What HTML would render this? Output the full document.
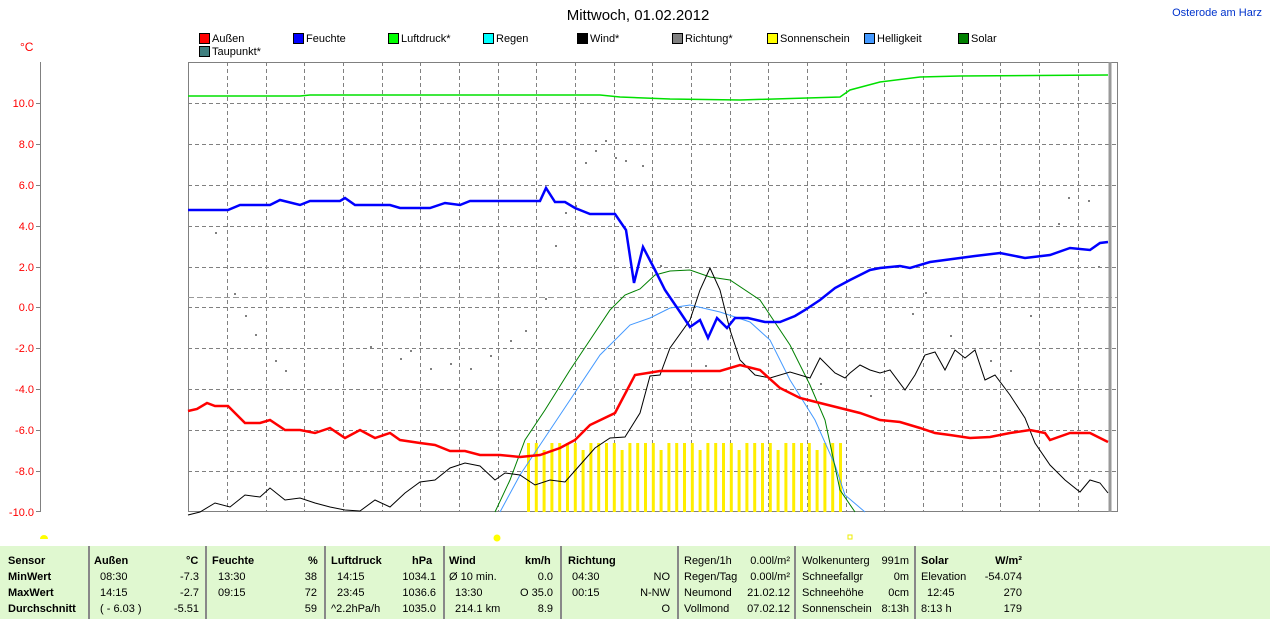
<!DOCTYPE html>
<html><head><meta charset="utf-8"><style>
body{margin:0;background:#fff;width:1270px;height:619px;overflow:hidden;font-family:"Liberation Sans",sans-serif}
svg{position:absolute;left:0;top:0}
#tbl{position:absolute;left:0;top:546px;width:1270px;height:73px;background:#e0f8d0;font-size:11px;color:#000}
#tbl div{position:absolute;white-space:nowrap}
.sep{width:2px;background:#888;top:0;height:73px}
.b{font-weight:bold}
</style></head><body>
<svg width="1270" height="619" xmlns="http://www.w3.org/2000/svg" font-family="Liberation Sans, sans-serif">
<text x="638" y="20" font-size="15" text-anchor="middle" fill="#000">Mittwoch, 01.02.2012</text>
<text x="1262" y="16" font-size="11" text-anchor="end" fill="#0033cc">Osterode am Harz</text>
<g font-size="11" fill="#000">
<rect x="199.5" y="33.5" width="10" height="10" fill="#f00" stroke="#000"/><text x="212" y="42">Außen</text>
<rect x="293.5" y="33.5" width="10" height="10" fill="#00f" stroke="#000"/><text x="306" y="42">Feuchte</text>
<rect x="388.5" y="33.5" width="10" height="10" fill="#0f0" stroke="#000"/><text x="401" y="42">Luftdruck*</text>
<rect x="483.5" y="33.5" width="10" height="10" fill="#0ff" stroke="#000"/><text x="496" y="42">Regen</text>
<rect x="577.5" y="33.5" width="10" height="10" fill="#000" stroke="#000"/><text x="590" y="42">Wind*</text>
<rect x="672.5" y="33.5" width="10" height="10" fill="#808080" stroke="#000"/><text x="685" y="42">Richtung*</text>
<rect x="767.5" y="33.5" width="10" height="10" fill="#ff0" stroke="#000"/><text x="780" y="42">Sonnenschein</text>
<rect x="864.5" y="33.5" width="10" height="10" fill="#4499ff" stroke="#000"/><text x="877" y="42">Helligkeit</text>
<rect x="958.5" y="33.5" width="10" height="10" fill="#008000" stroke="#000"/><text x="971" y="42">Solar</text>
<rect x="199.5" y="46.5" width="10" height="10" fill="#408080" stroke="#000"/><text x="212" y="55">Taupunkt*</text>
</g>
<text x="20" y="51" font-size="12" fill="#f00">°C</text>
<line x1="40.5" y1="62" x2="40.5" y2="512" stroke="#808080"/>
<g font-size="11" fill="#f00" text-anchor="end">
<text x="34" y="107">10.0</text><text x="34" y="148">8.0</text><text x="34" y="189">6.0</text><text x="34" y="230">4.0</text><text x="34" y="271">2.0</text><text x="34" y="311">0.0</text><text x="34" y="352">-2.0</text><text x="34" y="393">-4.0</text><text x="34" y="434">-6.0</text><text x="34" y="475">-8.0</text><text x="34" y="516">-10.0</text>
</g>
<g stroke="#808080"><line x1="36" y1="103.5" x2="40" y2="103.5"/><line x1="36" y1="144.5" x2="40" y2="144.5"/><line x1="36" y1="185.5" x2="40" y2="185.5"/><line x1="36" y1="226.5" x2="40" y2="226.5"/><line x1="36" y1="267.5" x2="40" y2="267.5"/><line x1="36" y1="307.5" x2="40" y2="307.5"/><line x1="36" y1="348.5" x2="40" y2="348.5"/><line x1="36" y1="389.5" x2="40" y2="389.5"/><line x1="36" y1="430.5" x2="40" y2="430.5"/><line x1="36" y1="471.5" x2="40" y2="471.5"/><line x1="36" y1="511.5" x2="40" y2="511.5"/></g>
<g stroke="#808080" stroke-dasharray="4,3">
<path d="M188 103.5H1117M188 144.5H1117M188 185.5H1117M188 226.5H1117M188 267.5H1117M188 307.5H1117M188 348.5H1117M188 389.5H1117M188 430.5H1117M188 471.5H1117"/>
<path d="M227.5 62V512M266.5 62V512M304.5 62V512M343.5 62V512M382.5 62V512M420.5 62V512M459.5 62V512M498.5 62V512M536.5 62V512M575.5 62V512M614.5 62V512M652.5 62V512M691.5 62V512M730.5 62V512M768.5 62V512M807.5 62V512M846.5 62V512M884.5 62V512M923.5 62V512M962.5 62V512M1000.5 62V512M1039.5 62V512M1078.5 62V512"/>
</g>
<rect x="188.5" y="62.5" width="929" height="449" fill="none" stroke="#808080"/>
<line x1="1110" y1="62" x2="1110" y2="512" stroke="#999" stroke-width="3"/>
<line x1="188" y1="297.5" x2="1117" y2="297.5" stroke="#999" stroke-dasharray="6,3"/>
<path stroke="#ffee00" stroke-width="3" d="M528.5 443V512M536.3 443V512M544.1 450V512M551.9 443V512M559.7 443V512M567.5 443V512M575.3 443V512M583.1 450V512M590.9 443V512M598.7 443V512M606.5 443V512M614.3 443V512M622.1 450V512M629.9 443V512M637.7 443V512M645.5 443V512M653.3 443V512M661.1 450V512M668.9 443V512M676.7 443V512M684.5 443V512M692.3 443V512M700.1 450V512M707.9 443V512M715.7 443V512M723.5 443V512M731.3 443V512M739.1 450V512M746.9 443V512M754.7 443V512M762.5 443V512M770.3 443V512M778.1 450V512M785.9 443V512M793.7 443V512M801.5 443V512M809.3 443V512M817.1 450V512M824.9 443V512M832.7 443V512M840.5 443V512"/>
<g fill="#808080">
<rect x="215" y="232" width="2" height="2"/><rect x="234" y="293" width="2" height="2"/><rect x="245" y="315" width="2" height="2"/><rect x="255" y="334" width="2" height="2"/><rect x="275" y="360" width="2" height="2"/><rect x="285" y="370" width="2" height="2"/><rect x="370" y="346" width="2" height="2"/><rect x="400" y="358" width="2" height="2"/><rect x="410" y="350" width="2" height="2"/><rect x="430" y="368" width="2" height="2"/><rect x="450" y="363" width="2" height="2"/><rect x="470" y="368" width="2" height="2"/><rect x="490" y="355" width="2" height="2"/><rect x="510" y="340" width="2" height="2"/><rect x="525" y="330" width="2" height="2"/><rect x="545" y="298" width="2" height="2"/><rect x="555" y="245" width="2" height="2"/><rect x="565" y="212" width="2" height="2"/><rect x="575" y="205" width="2" height="2"/><rect x="585" y="162" width="2" height="2"/><rect x="595" y="150" width="2" height="2"/><rect x="605" y="140" width="2" height="2"/><rect x="615" y="157" width="2" height="2"/><rect x="625" y="160" width="2" height="2"/><rect x="642" y="165" width="2" height="2"/><rect x="660" y="265" width="2" height="2"/><rect x="705" y="365" width="2" height="2"/><rect x="820" y="383" width="2" height="2"/><rect x="870" y="395" width="2" height="2"/><rect x="912" y="313" width="2" height="2"/><rect x="925" y="292" width="2" height="2"/><rect x="950" y="335" width="2" height="2"/><rect x="990" y="360" width="2" height="2"/><rect x="1010" y="370" width="2" height="2"/><rect x="1030" y="315" width="2" height="2"/><rect x="1058" y="223" width="2" height="2"/><rect x="1068" y="197" width="2" height="2"/><rect x="1088" y="200" width="2" height="2"/><rect x="1098" y="266" width="2" height="2"/>
</g>
<polyline fill="none" stroke="#00e000" stroke-width="1.5" points="188,96 300,96 310,95 600,95 620,97 670,99 740,100 840,97 850,90 880,82 920,77 960,76 1108,75"/>
<polyline fill="none" stroke="#4499ff" stroke-width="1" points="500,512 520,475 540,445 570,400 600,355 630,325 650,318 670,308 690,305 720,312 750,322 770,340 790,380 815,420 835,465 845,495 865,512"/>
<polyline fill="none" stroke="#008000" stroke-width="1" points="495,512 510,480 525,440 545,410 570,370 590,340 610,310 625,295 640,289 655,275 670,271 690,270 710,277 730,280 760,300 790,345 810,385 825,420 840,490 855,512"/>
<polyline fill="none" stroke="#000" stroke-width="1" points="188,515 200,512 215,503 230,507 245,495 260,497 270,488 285,500 300,498 315,503 330,507 345,510 360,511 375,500 390,507 405,493 420,482 435,480 450,468 465,463 480,466 495,480 505,473 520,475 535,485 550,480 565,482 580,465 595,448 610,438 625,437 640,413 650,376 660,375 670,348 690,320 700,290 710,268 720,290 730,330 740,360 755,375 770,378 790,372 810,378 820,358 835,373 845,378 850,373 860,365 870,370 880,373 890,370 905,390 915,375 925,355 935,352 945,370 955,350 965,358 975,350 985,380 995,375 1010,395 1025,418 1035,443 1050,465 1065,480 1080,492 1090,480 1100,483 1108,493"/>
<polyline fill="none" stroke="#f00" stroke-width="2.5" points="188,411 197,409 207,403 215,406 228,406 245,423 260,423 270,420 285,430 300,430 315,433 330,428 345,438 360,430 375,438 390,433 400,440 420,443 435,445 450,451 465,451 480,455 500,455 520,457 540,455 560,448 575,440 590,425 615,413 635,375 660,371 690,371 720,371 740,365 760,370 780,388 800,398 820,403 840,408 860,413 880,420 900,422 920,428 935,433 950,435 970,438 990,437 1010,433 1030,430 1045,433 1050,440 1070,433 1090,433 1108,442"/>
<polyline fill="none" stroke="#00f" stroke-width="2.5" points="188,210 228,210 240,205 270,205 280,200 300,205 310,201 340,201 345,198 355,205 390,205 400,208 430,208 445,203 460,205 470,201 540,201 546,188 555,202 565,202 575,208 590,214 615,214 626,230 634,283 643,247 655,270 665,290 680,312 690,327 700,320 708,338 717,318 727,328 735,318 748,318 765,322 780,322 795,316 805,310 820,300 835,288 850,280 860,275 870,270 880,268 900,266 910,268 930,262 960,258 975,256 1000,253 1025,258 1050,255 1070,248 1090,250 1100,243 1108,242"/>
<circle cx="44" cy="539" r="4" fill="#ff0"/><rect x="40" y="539" width="8" height="4" fill="#fff"/>
<circle cx="497" cy="538" r="3.5" fill="#ff0"/>
<rect x="848" y="535" width="4" height="4" fill="none" stroke="#ee0"/>
</svg>
<div id="tbl">
<div class="sep" style="left:88px"></div><div class="sep" style="left:205px"></div><div class="sep" style="left:324px"></div><div class="sep" style="left:443px"></div><div class="sep" style="left:560px"></div><div class="sep" style="left:677px"></div><div class="sep" style="left:794px"></div><div class="sep" style="left:914px"></div>
<div class="b" style="left:8px;top:9px">Sensor</div><div class="b" style="left:8px;top:25px">MinWert</div><div class="b" style="left:8px;top:41px">MaxWert</div><div class="b" style="left:8px;top:57px">Durchschnitt</div>
<div class="b" style="left:94px;top:9px">Außen</div><div class="b" style="left:186px;top:9px">°C</div>
<div style="left:100px;top:25px">08:30</div><div style="left:100px;top:41px">14:15</div><div style="left:100px;top:57px">( - 6.03 )</div>
<div style="right:1071px;top:25px">-7.3</div><div style="right:1071px;top:41px">-2.7</div><div style="right:1071px;top:57px">-5.51</div>
<div class="b" style="left:212px;top:9px">Feuchte</div><div class="b" style="left:308px;top:9px">%</div>
<div style="left:218px;top:25px">13:30</div><div style="left:218px;top:41px">09:15</div>
<div style="right:953px;top:25px">38</div><div style="right:953px;top:41px">72</div><div style="right:953px;top:57px">59</div>
<div class="b" style="left:331px;top:9px">Luftdruck</div><div class="b" style="left:412px;top:9px">hPa</div>
<div style="left:337px;top:25px">14:15</div><div style="left:337px;top:41px">23:45</div><div style="left:331px;top:57px">^2.2hPa/h</div>
<div style="right:834px;top:25px">1034.1</div><div style="right:834px;top:41px">1036.6</div><div style="right:834px;top:57px">1035.0</div>
<div class="b" style="left:449px;top:9px">Wind</div><div class="b" style="left:525px;top:9px">km/h</div>
<div style="left:449px;top:25px">Ø 10 min.</div><div style="left:455px;top:41px">13:30</div><div style="left:455px;top:57px">214.1 km</div>
<div style="right:717px;top:25px">0.0</div><div style="right:717px;top:41px">O 35.0</div><div style="right:717px;top:57px">8.9</div>
<div class="b" style="left:568px;top:9px">Richtung</div>
<div style="left:572px;top:25px">04:30</div><div style="left:572px;top:41px">00:15</div>
<div style="right:600px;top:25px">NO</div><div style="right:600px;top:41px">N-NW</div><div style="right:600px;top:57px">O</div>
<div style="left:684px;top:9px">Regen/1h</div><div style="left:684px;top:25px">Regen/Tag</div><div style="left:684px;top:41px">Neumond</div><div style="left:684px;top:57px">Vollmond</div>
<div style="right:480px;top:9px">0.00l/m²</div><div style="right:480px;top:25px">0.00l/m²</div><div style="right:480px;top:41px">21.02.12</div><div style="right:480px;top:57px">07.02.12</div>
<div style="left:802px;top:9px">Wolkenunterg</div><div style="left:802px;top:25px">Schneefallgr</div><div style="left:802px;top:41px">Schneehöhe</div><div style="left:802px;top:57px">Sonnenschein</div>
<div style="right:361px;top:9px">991m</div><div style="right:361px;top:25px">0m</div><div style="right:361px;top:41px">0cm</div><div style="right:361px;top:57px">8:13h</div>
<div class="b" style="left:921px;top:9px">Solar</div><div class="b" style="right:248px;top:9px">W/m²</div>
<div style="left:921px;top:25px">Elevation</div><div style="left:927px;top:41px">12:45</div><div style="left:921px;top:57px">8:13 h</div>
<div style="right:248px;top:25px">-54.074</div><div style="right:248px;top:41px">270</div><div style="right:248px;top:57px">179</div>
</div>
</body></html>
